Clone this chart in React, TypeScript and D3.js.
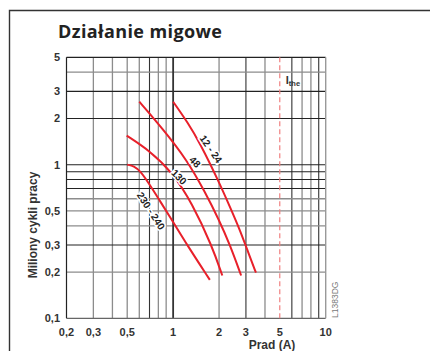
import React from "react";
import * as d3 from "d3";

const W = 430;
const H = 351;

const xTicks = [0.2, 0.3, 0.5, 1, 2, 3, 5, 10];
const xTickLabels = ["0,2", "0,3", "0,5", "1", "2", "3", "5", "10"];
const yTicks = [0.1, 0.2, 0.3, 0.5, 1, 2, 3, 5];
const yTickLabels = ["0,1", "0,2", "0,3", "0,5", "1", "2", "3", "5"];

const xGridDark = [0.7, 3, 6, 9];
const xGridGray = [0.3, 0.4, 0.5, 0.6, 0.8, 0.9, 2, 4, 7, 8];
const yGridDark = [0.3, 0.7, 0.8, 0.9, 1, 2, 3];
const yGridGray = [0.2, 0.4, 0.5, 0.6, 4];

const curve1224: [number, number][] = [[1.0, 2.57], [1.252, 1.869], [1.5, 1.38], [1.97, 0.795], [2.36, 0.53], [2.74, 0.376], [3.1, 0.27], [3.49, 0.198]];
const curve48: [number, number][] = [[0.6, 2.57], [0.845, 1.733], [1.233, 1.073], [1.617, 0.664], [2.0, 0.436], [2.36, 0.3], [2.79, 0.19]];
const curve130: [number, number][] = [[0.496, 1.545], [0.705, 1.228], [0.983, 0.897], [1.33, 0.563], [1.798, 0.2956], [2.1, 0.19]];
const curve230: [number, number][] = [[0.5, 1.0], [0.554, 0.981], [0.607, 0.91], [0.684, 0.772], [0.82, 0.58], [0.983, 0.436], [1.23, 0.302], [1.74, 0.178]];
const curves = [curve1224, curve48, curve130, curve230];

const curveLabels = ["12 - 24", "48", "130", "230 - 240"];
const labelX = [1.77, 1.39, 1.093, 0.716];
const labelY = [1.265, 1.04, 0.832, 0.5];
const labelAngle = [55, 45, 45, 57];

const ithe = 5;

export default function App() {
  const x = d3.scaleLog().domain([0.2, 10]).range([66.5, 325.7]);
  const y = d3.scaleLog().domain([0.1, 5]).range([318.3, 57.3]);
  const line = d3
    .line<[number, number]>()
    .x((d) => x(d[0]))
    .y((d) => y(d[1]))
    .curve(d3.curveBasis);

  const [x0, x1] = x.range();
  const [y0, y1] = y.range();
  const tickFont = "'Liberation Sans', Arial, sans-serif";

  return (
    <svg
      width={W}
      height={H}
      style={{ position: "absolute", left: 0, top: 0, display: "block", background: "#fff" }}
    >
      <rect x={0} y={0} width={W} height={H} fill="#fff" />
      {/* outer frame */}
      <path d={`M9.5,${H + 2} V10.5 H${W + 2}`} fill="none" stroke="#333" strokeWidth={1.4} />
      <text
        x={58}
        y={38}
        fontFamily="'Open Sans', sans-serif"
        fontWeight={700}
        fontSize={18}
        letterSpacing={0.4}
        fill="#222"
      >
        Działanie migowe
      </text>

      {/* grid */}
      {xGridGray.map((v) => (
        <line key={"xg" + v} x1={x(v)} x2={x(v)} y1={y1} y2={y0} stroke="#8c8c8c" strokeWidth={1.3} />
      ))}
      {xGridDark.map((v) => (
        <line key={"xd" + v} x1={x(v)} x2={x(v)} y1={y1} y2={y0} stroke="#333" strokeWidth={1.1} />
      ))}
      {yGridGray.map((v) => (
        <line key={"yg" + v} x1={x0} x2={x1} y1={y(v)} y2={y(v)} stroke="#8c8c8c" strokeWidth={1.3} />
      ))}
      {yGridDark.map((v) => (
        <line key={"yd" + v} x1={x0} x2={x1} y1={y(v)} y2={y(v)} stroke="#222" strokeWidth={1.1} />
      ))}
      <line x1={x(1)} x2={x(1)} y1={y1} y2={y0} stroke="#333" strokeWidth={1.8} />
      {/* plot border */}
      <line x1={x0} x2={x1} y1={y1} y2={y1} stroke="#222" strokeWidth={1.2} />
      <line x1={x0} x2={x1} y1={y0} y2={y0} stroke="#666" strokeWidth={1.3} />
      <line x1={x0} x2={x0} y1={y1} y2={y0} stroke="#222" strokeWidth={1.2} />
      <line x1={x1} x2={x1} y1={y1} y2={y0} stroke="#999" strokeWidth={1.4} />

      {/* Ithe */}
      <line x1={x(ithe)} x2={x(ithe)} y1={y1} y2={y0} stroke="#f08080" strokeWidth={1.2} strokeDasharray="5,3" />
      <text x={x(ithe) + 6} y={84} fontFamily={tickFont} fontWeight={700} fontSize={11} fill="#333">
        I<tspan fontSize={7.5} dy={2}>the</tspan>
      </text>

      {/* curves */}
      {curves.map((c, i) => (
        <path key={"c" + i} d={line(c) || ""} fill="none" stroke="#e8202a" strokeWidth={2} />
      ))}
      {curveLabels.map((t, i) => (
        <text
          key={"l" + i}
          transform={`translate(${x(labelX[i])},${y(labelY[i])}) rotate(${labelAngle[i]})`}
          textAnchor="middle"
          dy="0.35em"
          fontFamily={tickFont}
          fontWeight={700}
          fontSize={10}
          fill="#222"
          stroke="#fff"
          strokeWidth={3}
          paintOrder="stroke"
        >
          {t}
        </text>
      ))}

      {/* ticks */}
      {xTicks.map((v, i) => (
        <text key={"xt" + v} x={x(v)} y={336} textAnchor="middle" fontFamily={tickFont} fontWeight={700} fontSize={11} fill="#333">
          {xTickLabels[i]}
        </text>
      ))}
      {yTicks.map((v, i) => (
        <text key={"yt" + v} x={60} y={y(v)} dy="0.36em" textAnchor="end" fontFamily={tickFont} fontWeight={700} fontSize={11} fill="#333">
          {yTickLabels[i]}
        </text>
      ))}
      <text x={272} y={349} textAnchor="middle" fontFamily={tickFont} fontWeight={700} fontSize={12} fill="#333">
        Prad (A)
      </text>
      <text
        transform={`translate(37,225) rotate(-90)`}
        textAnchor="middle"
        fontFamily={tickFont}
        fontWeight={700}
        fontSize={12}
        fill="#333"
      >
        Miliony cykli pracy
      </text>
      <text
        transform={`translate(338,318) rotate(-90)`}
        textAnchor="start"
        fontFamily="'Liberation Sans Narrow', 'Liberation Sans', sans-serif"
        fontSize={8.5}
        fill="#777"
      >
        L1383DG
      </text>
    </svg>
  );
}
